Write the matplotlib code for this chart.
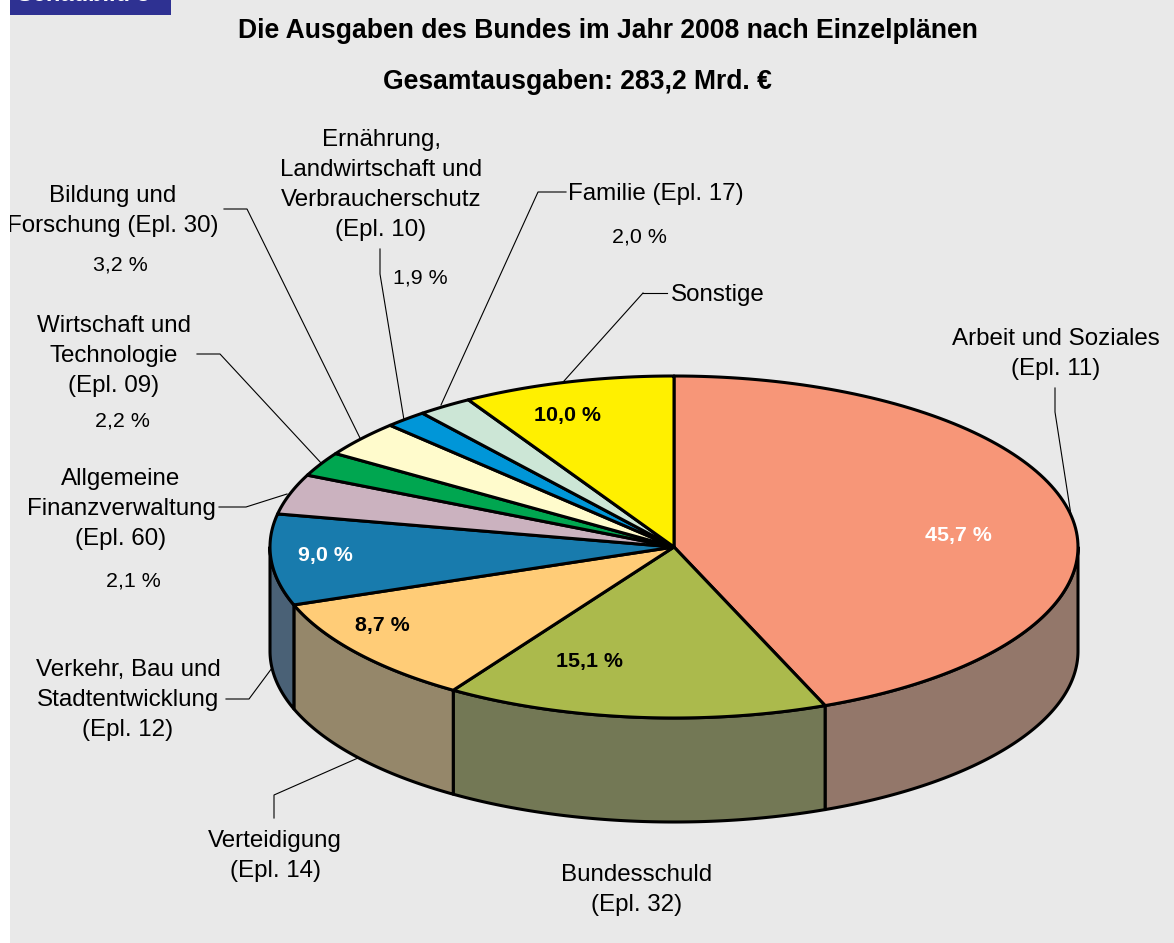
import matplotlib
matplotlib.use('Agg')
import matplotlib.pyplot as plt
import numpy as np

plt.rcParams['font.family'] = ['Liberation Sans', 'DejaVu Sans']

# clockwise from 12 o'clock, shares (%)
names = ['Arbeit', 'Bundesschuld', 'Verteidigung', 'Verkehr', 'Finanzverwaltung',
         'Wirtschaft', 'Bildung', 'Ernaehrung', 'Familie', 'Sonstige']
shares = [43.9, 15.3, 10.3, 8.6, 3.8, 2.3, 3.4, 1.7, 2.2, 8.5]
top_colors = ['#F79678', '#ABBA4C', '#FFCC77', '#187BAD', '#CBB2BF',
              '#00A650', '#FFFBCC', '#0096D8', '#CCE6D6', '#FFF000']
side_colors = ['#93776A', '#737855', '#95876A', '#4A6176', '#4A6176',
               '#4A6176', '#4A6176', '#4A6176', '#4A6176', '#4A6176']

CX, CY, RX, RY, DEPTH = 674, 547, 404, 171, 104


def rim(a0, a1, n=120):
    # points on the top ellipse, angles in degrees clockwise from top
    t = np.radians(np.linspace(a0, a1, n))
    return CX + RX * np.sin(t), CY - RY * np.cos(t)


fig = plt.figure(figsize=(11.74, 9.43), dpi=100, facecolor='white')
ax = fig.add_axes([0, 0, 1, 1])
ax.set_xlim(0, 1174)
ax.set_ylim(943, 0)
ax.axis('off')

ax.fill([10, 1174, 1174, 10], [0, 0, 943, 943], color='#E9E9E9', lw=0)
ax.fill([10, 171, 171, 10], [0, 0, 15, 15], color='#2E3192', lw=0)
# white margin on top, it cuts the F of Forschung like in the original
ax.fill([0, 10, 10, 0], [0, 0, 943, 943], color='white', lw=0, zorder=5)
ax.text(83, 6, 'Schaubild 3', color='white', fontsize=17, fontweight='bold',
        ha='center', va='bottom')

ax.text(607.5, 31, 'Die Ausgaben des Bundes im Jahr 2008 nach Einzelplänen',
        fontsize=19.1, fontweight='bold', ha='center', va='center')
ax.text(577.5, 82, 'Gesamtausgaben: 283,2 Mrd. €',
        fontsize=19.1, fontweight='bold', ha='center', va='center')

edges = np.concatenate([[0], np.cumsum(shares)]) / sum(shares) * 360

# leader lines go under the pie
leaders = [
    ([1055, 1055, 1071], [388, 412, 515]),
    ([643, 667], [293, 293]),
    ([643, 564], [293, 381]),
    ([566, 538, 441], [192, 192, 405]),
    ([380, 380, 404], [249, 274, 420]),
    ([224, 247, 360], [209, 209, 438]),
    ([197, 220, 322], [354, 354, 464]),
    ([219, 246, 287], [507, 507, 494]),
    ([226, 249, 272], [699, 699, 668]),
    ([274, 274, 358], [818, 795, 758]),
]
for lx, ly in leaders:
    ax.plot(lx, ly, color='black', lw=0.8, zorder=1)

# side wall, only the front half of the rim shows
for i in range(len(shares)):
    a0, a1 = max(edges[i], 90), min(edges[i + 1], 270)
    if a1 <= a0:
        continue
    x, y = rim(a0, a1)
    ax.fill(np.r_[x, x[::-1]], np.r_[y, y[::-1] + DEPTH], facecolor=side_colors[i],
            edgecolor='black', lw=2.2, joinstyle='round', zorder=2)

# top faces
for i in range(len(shares)):
    x, y = rim(edges[i], edges[i + 1])
    ax.fill(np.r_[CX, x], np.r_[CY, y], facecolor=top_colors[i],
            edgecolor='black', lw=2.2, joinstyle='round', zorder=3)

share_labels = [(958, 536, '45,7 %', 'white'), (589, 662, '15,1 %', 'black'),
                (382, 626, '8,7 %', 'black'), (325, 556, '9,0 %', 'white'),
                (567, 415, '10,0 %', 'black')]
for x, y, s, c in share_labels:
    ax.text(x, y, s, color=c, fontsize=15.4, fontweight='bold', ha='center',
            va='center', zorder=4)

labels = [
    (1056, 354, 'Arbeit und Soziales\n(Epl. 11)'),
    (718, 295, 'Sonstige'),
    (656, 194, 'Familie (Epl. 17)'),
    (381, 185, 'Ernährung,\nLandwirtschaft und\nVerbraucherschutz\n(Epl. 10)'),
    (113, 211, 'Bildung und\nForschung (Epl. 30)'),
    (114, 356, 'Wirtschaft und\nTechnologie\n(Epl. 09)'),
    (121, 509, 'Allgemeine\nFinanzverwaltung\n(Epl. 60)'),
    (128, 700, 'Verkehr, Bau und\nStadtentwicklung\n(Epl. 12)'),
    (275, 856, 'Verteidigung\n(Epl. 14)'),
    (637, 890, 'Bundesschuld\n(Epl. 32)'),
]
for x, y, s in labels:
    ax.text(x, y, s, fontsize=17.4, ha='center', va='center', linespacing=1.46)

small_labels = [(639, 237, '2,0 %'), (420, 278, '1,9 %'), (120, 265, '3,2 %'),
                (122, 421, '2,2 %'), (133, 581, '2,1 %')]
for x, y, s in small_labels:
    ax.text(x, y, s, fontsize=15.4, ha='center', va='center')

fig.savefig('out.png', dpi=100)
